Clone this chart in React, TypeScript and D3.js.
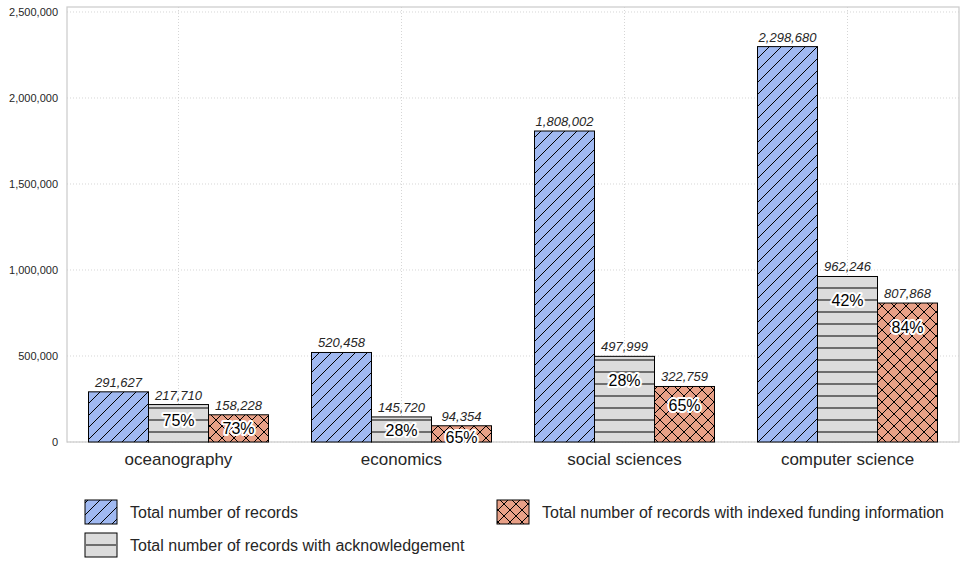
import { useRef, useEffect } from 'react'
import * as d3 from 'd3'

const categories = ['oceanography', 'economics', 'social sciences', 'computer science']
const seriesNames = [
  'Total number of records',
  'Total number of records with acknowledgement',
  'Total number of records with indexed funding information',
]
const totalRecords = [291627, 520458, 1808002, 2298680]
const ackRecords = [217710, 145720, 497999, 962246]
const fundingRecords = [158228, 94354, 322759, 807868]
const ackPercent = ['75%', '28%', '28%', '42%']
const fundingPercent = ['73%', '65%', '65%', '84%']
const yTicks = [0, 500000, 1000000, 1500000, 2000000, 2500000]

const W = 965
const H = 571
const FONT = '"Liberation Sans", Arial, sans-serif'

export default function App() {
  const svgRef = useRef<SVGSVGElement>(null)

  useEffect(() => {
    if (!svgRef.current) return
    const svg = d3.select(svgRef.current)
    svg.selectAll('*').remove()

    const left = 67
    const right = 959
    const top = 7
    const bottom = 442

    const fills = ['#a0b9f1', '#dcdcdc', '#e8a087']
    const series = [totalRecords, ackRecords, fundingRecords]
    const percents = [null, ackPercent, fundingPercent]

    // hatch patterns
    const defs = svg.append('defs')
    const p0 = defs.append('pattern').attr('id', 'hatch0').attr('patternUnits', 'userSpaceOnUse')
      .attr('width', 12).attr('height', 12)
    p0.append('rect').attr('width', 12).attr('height', 12).attr('fill', fills[0])
    p0.append('path').attr('d', 'M0,12 L12,0 M-3,3 L3,-3 M9,15 L15,9')
      .attr('stroke', '#000').attr('stroke-width', 1)

    const p1 = defs.append('pattern').attr('id', 'hatch1').attr('patternUnits', 'userSpaceOnUse')
      .attr('width', 12).attr('height', 12).attr('y', 6)
    p1.append('rect').attr('width', 12).attr('height', 12).attr('fill', fills[1])
    p1.append('path').attr('d', 'M0,6 L12,6').attr('stroke', '#6e6e6e').attr('stroke-width', 2)

    const p2 = defs.append('pattern').attr('id', 'hatch2').attr('patternUnits', 'userSpaceOnUse')
      .attr('width', 12).attr('height', 12)
    p2.append('rect').attr('width', 12).attr('height', 12).attr('fill', fills[2])
    p2.append('path').attr('d', 'M0,12 L12,0 M-3,3 L3,-3 M9,15 L15,9 M0,0 L12,12 M-3,9 L3,15 M9,-3 L15,3')
      .attr('stroke', '#000').attr('stroke-width', 1)

    const x = d3.scaleBand<string>().domain(categories).range([left, right]).padding(0)
    const inner = d3.scaleBand<number>().domain([0, 1, 2]).range([-90, 90]).padding(0)
    const y = d3.scaleLinear().domain([0, 2529000]).range([bottom, top])

    const g = svg.append('g')

    // grid
    g.selectAll('.hgrid').data(yTicks).join('line')
      .attr('x1', left).attr('x2', right)
      .attr('y1', (d) => y(d)).attr('y2', (d) => y(d))
      .attr('stroke', '#cccccc').attr('stroke-width', 0.8).attr('stroke-dasharray', '1,2')
    g.selectAll('.vgrid').data(categories).join('line')
      .attr('x1', (d) => (x(d) ?? 0) + x.bandwidth() / 2).attr('x2', (d) => (x(d) ?? 0) + x.bandwidth() / 2)
      .attr('y1', top).attr('y2', bottom)
      .attr('stroke', '#cccccc').attr('stroke-width', 0.8).attr('stroke-dasharray', '1,2')

    // frame
    g.append('rect').attr('x', left).attr('y', top).attr('width', right - left).attr('height', bottom - top)
      .attr('fill', 'none').attr('stroke', '#cccccc').attr('stroke-width', 1.25)

    // bars
    series.forEach((vals, si) => {
      const bw = inner.bandwidth()
      const bx = (i: number) => (x(categories[i]) ?? 0) + x.bandwidth() / 2 + (inner(si) ?? 0)
      g.selectAll(`.bar${si}`).data(vals).join('rect')
        .attr('x', (_d, i) => bx(i))
        .attr('y', (d) => y(d))
        .attr('width', bw)
        .attr('height', (d) => y(0) - y(d))
        .attr('fill', `url(#hatch${si})`)
        .attr('stroke', '#000').attr('stroke-width', 1)

      g.selectAll(`.val${si}`).data(vals).join('text')
        .attr('x', (_d, i) => bx(i) + bw / 2)
        .attr('y', (d) => y(d) - 5)
        .attr('text-anchor', 'middle')
        .attr('font-family', FONT).attr('font-size', 13).attr('font-style', 'italic')
        .attr('fill', '#262626')
        .text((d) => d3.format(',')(d))

      const pct = percents[si]
      if (pct) {
        g.selectAll(`.pct${si}`).data(vals).join('text')
          .attr('x', (_d, i) => bx(i) + bw / 2)
          .attr('y', (d) => {
            const h = y(0) - y(d)
            return y(d) + Math.min(24, 8 + h * 0.2)
          })
          .attr('dy', '0.35em')
          .attr('text-anchor', 'middle')
          .attr('font-family', FONT).attr('font-size', 16)
          .attr('fill', '#000')
          .attr('stroke', '#fff').attr('stroke-width', 4).attr('stroke-linejoin', 'round')
          .attr('paint-order', 'stroke')
          .text((_d, i) => pct[i])
      }
    })

    // y axis labels
    g.selectAll('.ytick').data(yTicks).join('text')
      .attr('x', left - 9).attr('y', (d) => y(d)).attr('dy', '0.35em')
      .attr('text-anchor', 'end')
      .attr('font-family', FONT).attr('font-size', 11).attr('fill', '#262626')
      .text((d) => d3.format(',')(d))

    // x axis labels
    g.selectAll('.xtick').data(categories).join('text')
      .attr('x', (d) => (x(d) ?? 0) + x.bandwidth() / 2).attr('y', 465)
      .attr('text-anchor', 'middle')
      .attr('font-family', FONT).attr('font-size', 17).attr('fill', '#262626')
      .text((d) => d)

    // legend
    const legendPos = [
      { px: 85, py: 500 },
      { px: 85, py: 533 },
      { px: 497, py: 500 },
    ]
    seriesNames.forEach((name, si) => {
      const { px, py } = legendPos[si]
      const fill = si === 1 ? fills[1] : `url(#hatch${si})`
      g.append('rect').attr('x', px).attr('y', py).attr('width', 32).attr('height', 24)
        .attr('fill', fill).attr('stroke', '#000').attr('stroke-width', 1)
      if (si === 1) {
        // single hatch line through the middle of the legend patch
        g.append('line').attr('x1', px + 0.5).attr('x2', px + 31.5)
          .attr('y1', py + 12).attr('y2', py + 12)
          .attr('stroke', '#6e6e6e').attr('stroke-width', 2)
      }
      g.append('text').attr('x', px + 45).attr('y', py + 12).attr('dy', '0.35em')
        .attr('font-family', FONT).attr('font-size', 16).attr('fill', '#262626')
        .text(name)
    })
  }, [])

  return (
    <svg ref={svgRef} width={W} height={H}
      style={{ position: 'absolute', left: 0, top: 0, background: '#fff' }} />
  )
}
